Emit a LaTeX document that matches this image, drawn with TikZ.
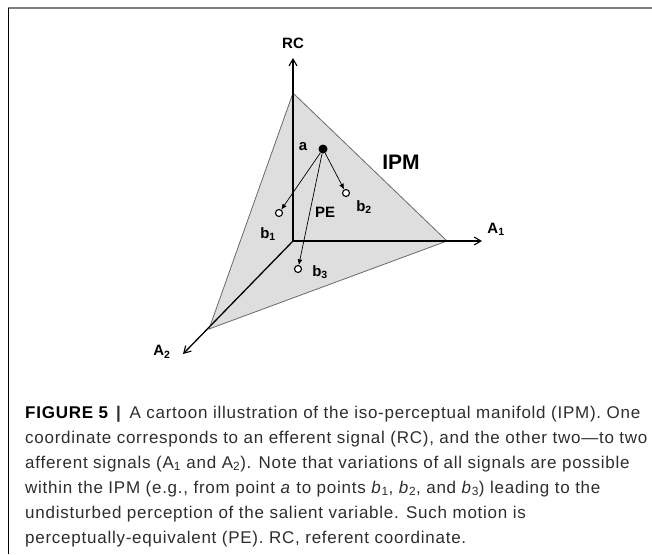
\documentclass[tikz,border=0pt]{standalone}
\usepackage{fontspec}
\setmainfont{Liberation Sans}
\newfontfamily\capfont[LetterSpace=4.4]{Liberation Sans}
\usepackage{xcolor}
\usetikzlibrary{arrows.meta}
\definecolor{ipmfill}{RGB}{222,222,222}
\definecolor{ipmedge}{RGB}{105,105,105}
\definecolor{captext}{RGB}{45,45,45}

\begin{document}
\begin{tikzpicture}[x=1pt,y=-1pt,
        axis/.style={line width=1.3pt,-{Straight Barb[length=2.4mm,width=2.8mm,line width=1.1pt]}},
        move/.style={line width=0.7pt,-{Latex[length=2mm,width=1.7mm]}},
        start/.style={circle,fill=black,inner sep=0pt,minimum size=9pt},
        goal/.style={circle,draw,fill=white,line width=1.1pt,inner sep=0pt,minimum size=7pt},
        lbl/.style={font=\bfseries\fontsize{15}{17}\selectfont},
        caption/.style={anchor=base west,inner sep=0pt,text=captext,font=\capfont\fontsize{17}{25}\selectfont}
    ]
        \useasboundingbox (0,0) rectangle (652,554);
        % frame
        \draw[gray,line width=1.6pt] (8,8) -- (652,8);
        \draw[black,line width=0.8pt] (8,8) -- (8,554);

        % manifold
        \coordinate (o) at (293,241);
        \coordinate (top) at (293,93);
        \coordinate (right) at (447,241);
        \coordinate (left) at (209,329);
        \filldraw[fill=ipmfill,draw=ipmedge,line width=0.8pt] (top) -- (right) -- (left) -- cycle;

        % axes
        \coordinate (rctip) at (293,58);
        \coordinate (a1tip) at (482,241);
        \coordinate (a2tip) at (183,354);
        \draw[axis] (o) -- (rctip);
        \draw[axis] (o) -- (a1tip);
        \draw[axis] (o) -- (a2tip);
        \node[lbl] (rc) at (293,43) {RC};
        \node[lbl] (a1) at (496,229) {A\textsubscript{1}};
        \node[lbl] (a2) at (162,352) {A\textsubscript{2}};

        % points and moves
        \node[start] (a) at (323,149) {};
        \node[goal] (b1) at (279,213) {};
        \node[goal] (b2) at (346,193) {};
        \node[goal] (b3) at (298,269) {};
        \draw[move] (a) -- (b1);
        \draw[move] (a) -- (b2);
        \draw[move] (a) -- (b3);
        \node[lbl] (la) at (303,147) {a};
        \node[lbl,font=\bfseries\fontsize{21}{23}\selectfont] (ipm) at (401,162) {IPM};
        \node[lbl] (pe) at (325,212) {PE};
        \node[lbl] (lb1) at (268,234) {b\textsubscript{1}};
        \node[lbl] (lb2) at (364,207) {b\textsubscript{2}};
        \node[lbl] (lb3) at (320,272) {b\textsubscript{3}};

        % caption
        \foreach \ln [count=\i from 0] in {
            {\textbf{\color{black}FIGURE 5}\hspace{8pt}\textbf{|}\hspace{8pt}A cartoon illustration of the iso-perceptual manifold (IPM). One},
            {coordinate corresponds to an efferent signal (RC), and the other two—to two},
            {afferent signals (A\textsubscript{1} and A\textsubscript{2}). Note that variations of all signals are possible},
            {within the IPM (e.g., from point \textit{a} to points \textit{b}\textsubscript{1}, \textit{b}\textsubscript{2}, and \textit{b}\textsubscript{3}) leading to the},
            {undisturbed perception of the salient variable. Such motion is},
            {perceptually-equivalent (PE). RC, referent coordinate.}}
            \node[caption] (cap\i) at (25,418+25*\i) {\ln};
    \end{tikzpicture}
\end{document}
